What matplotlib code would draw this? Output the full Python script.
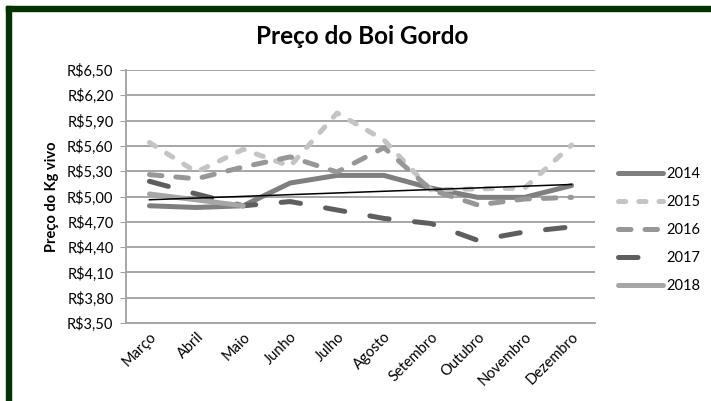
import matplotlib
matplotlib.use("Agg")
import matplotlib.pyplot as plt
import numpy as np
from matplotlib.patches import Rectangle

months = ["Março", "Abril", "Maio", "Junho", "Julho", "Agosto",
          "Setembro", "Outubro", "Novembro", "Dezembro"]
y2014 = [4.89, 4.87, 4.89, 5.16, 5.25, 5.25, 5.10, 4.99, 4.99, 5.13]
y2015 = [5.64, 5.29, 5.56, 5.36, 5.99, 5.67, 5.08, 5.09, 5.10, 5.61]
y2016 = [5.26, 5.21, 5.35, 5.47, 5.29, 5.58, 5.08, 4.90, 4.97, 4.99]
y2017 = [5.18, 5.03, 4.89, 4.94, 4.84, 4.74, 4.68, 4.48, 4.58, 4.64]
y2018 = [5.03, 4.96, 4.89]
yticks = [3.50, 3.80, 4.10, 4.40, 4.70, 5.00, 5.30, 5.60, 5.90, 6.20, 6.50]

plt.rcParams['font.family'] = ['Lato', 'DejaVu Sans']

fig = plt.figure(figsize=(7.11, 4.01), dpi=100)
ax = fig.add_axes([126/711, 1-323/401, (595-126)/711, (323-70)/401])

x = np.arange(len(months))
lw = 3.6
ax.plot(x, y2014, color='#7f7f7f', lw=lw, solid_capstyle='round', label='2014', zorder=3)
ax.plot(x, y2015, color='#c4c4c4', lw=lw, dashes=(1.45, 2.6), dash_capstyle='round', label='2015', zorder=3)
ax.plot(x, y2016, color='#979797', lw=lw, dashes=(2.5, 2.8), dash_capstyle='round', label='2016', zorder=3)
ax.plot(x, y2017, color='#5e5e5e', lw=lw, dashes=(3.9, 5.1), dash_capstyle='round', label='2017', zorder=3)
ax.plot(x[:len(y2018)], y2018, color='#a6a6a6', lw=lw, solid_capstyle='round', label='2018', zorder=3)

coef = np.polyfit(x, y2014, 1)
ax.plot(x, np.polyval(coef, x), color='black', lw=1.1, zorder=4)

ax.set_xlim(-0.5, len(months) - 0.5)
ax.set_ylim(3.5, 6.5)
ax.set_yticks(yticks)
ax.set_yticklabels(["R$" + f"{v:.2f}".replace('.', ',') for v in yticks], fontsize=10.5)
ax.set_xticks(x)
ax.set_xticklabels(months, rotation=45, ha='right', va='top', rotation_mode='anchor', fontsize=10.5)
ax.tick_params(axis='x', length=0, pad=5)
ax.tick_params(axis='y', length=4, color='#a0a0a0', pad=5)
ax.grid(axis='y', color='#a6a6a6', lw=1.4)
ax.set_axisbelow(True)
for s in ['top', 'right']:
    ax.spines[s].set_visible(False)
for s in ['left', 'bottom']:
    ax.spines[s].set_color('#a6a6a6')
    ax.spines[s].set_linewidth(1.4)

ax.set_ylabel("Preço do Kg vivo", fontsize=10.5, fontweight='bold', labelpad=6)

fig.text(362/711, 1-37/401, "Preço do Boi Gordo", ha='center', va='center',
         fontsize=17.5, fontweight='bold')

handles, labels = ax.get_legend_handles_labels()
leg = fig.legend(handles, labels, loc='center left', bbox_to_anchor=(605/711, 1-230/401),
                 frameon=False, fontsize=10.5, handlelength=3.1, handletextpad=0.2,
                 labelspacing=0.95)

# dark green border
fig.patches.append(Rectangle((6/711, 1-11/401), 1, 5/401, transform=fig.transFigure,
                             color='#003300', zorder=10))
fig.patches.append(Rectangle((6/711, 0), 5/711, 1-6/401, transform=fig.transFigure,
                             color='#003300', zorder=10))

fig.savefig("out.png", dpi=100)
